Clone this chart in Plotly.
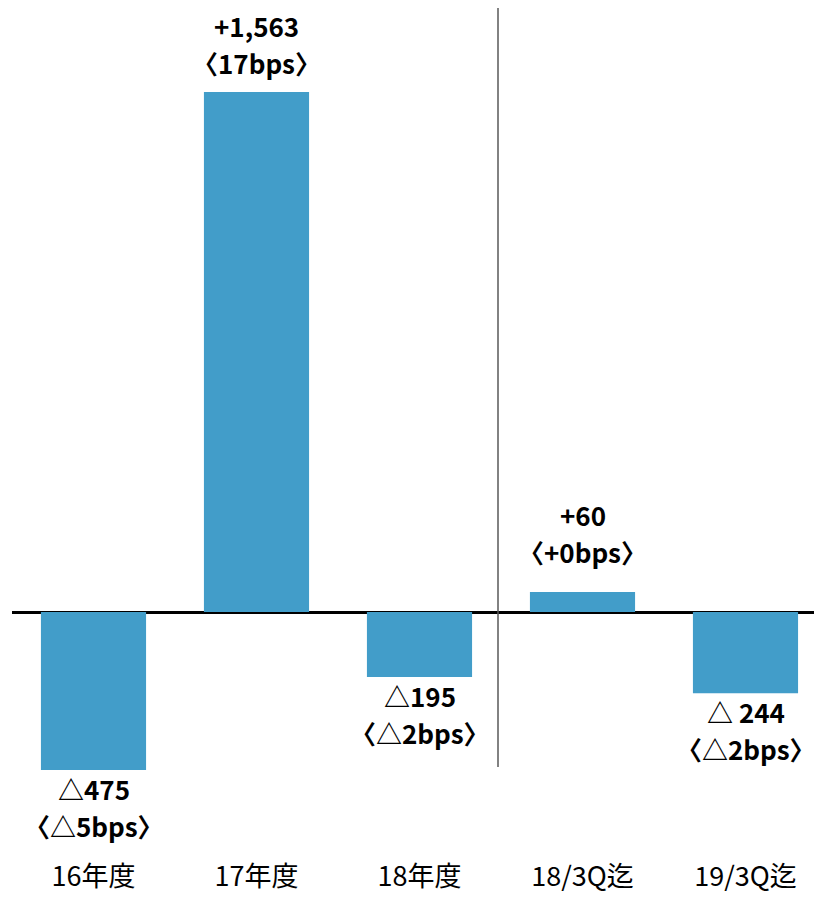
import plotly.graph_objects as go

categories = ["16年度", "17年度", "18年度", "18/3Q迄", "19/3Q迄"]
values = [-475, 1563, -195, 60, -244]
labels_main = ["△475", "+1,563", "△195", "+60", "△ 244"]
labels_bps = ["〈△5bps〉", "〈17bps〉", "〈△2bps〉", "〈+0bps〉", "〈△2bps〉"]

OFF = 8  # page body margin
W, H = 822 - 2 * OFF, 901 - 2 * OFF
ml, mr, mt, mb = 12 - OFF, 0, 0, 35
zero_px = 612 - OFF
scale = (612 - 92) / 1563.0
y_top = (zero_px - mt) / scale
y_bot = -(H - mb - zero_px) / scale

FONT = "Noto Sans CJK JP"
fs = 26

fig = go.Figure()
fig.add_trace(go.Bar(
    x=list(range(len(categories))), y=values,
    marker=dict(color="#429DC9", line=dict(width=0)),
    width=0.645, hoverinfo="skip",
))

annotations = []
for i, (v, a, b) in enumerate(zip(values, labels_main, labels_bps)):
    if v >= 0:
        gap2 = 28 if i != 1 else 17
        annotations.append(dict(x=i, y=v, text="<b>%s</b>" % b, showarrow=False,
                                yanchor="bottom", yshift=gap2 - 8,
                                font=dict(family=FONT, size=fs, color="black")))
        annotations.append(dict(x=i, y=v, text="<b>%s</b>" % a, showarrow=False,
                                yanchor="bottom", yshift=gap2 - 8 + 37,
                                font=dict(family=FONT, size=fs, color="black")))
    else:
        annotations.append(dict(x=i, y=v, text="<b>%s</b>" % a, showarrow=False,
                                yanchor="top", yshift=2,
                                font=dict(family=FONT, size=fs, color="black")))
        annotations.append(dict(x=i, y=v, text="<b>%s</b>" % b, showarrow=False,
                                yanchor="top", yshift=2 - 37,
                                font=dict(family=FONT, size=fs, color="black")))

x_div = (498 - 12) / 163.0 - 0.5
y_div_bot = -(767 - 612) / scale

fig.add_shape(type="line", xref="x", yref="y", x0=x_div, x1=x_div,
              y0=y_div_bot, y1=y_top, line=dict(color="#595959", width=1.5))

fig.update_layout(
    width=W, height=H,
    margin=dict(l=ml, r=mr, t=mt, b=mb, autoexpand=False),
    paper_bgcolor="white", plot_bgcolor="white",
    showlegend=False,
    annotations=annotations,
    xaxis=dict(range=[-0.5, -0.5 + (W - ml - mr) / 163.0],
               tickmode="array", tickvals=list(range(len(categories))),
               ticktext=categories, showgrid=False, zeroline=False,
               showline=False, ticks="", automargin=False,
               tickfont=dict(family=FONT, size=27, color="black")),
    yaxis=dict(range=[y_bot, y_top], showgrid=False, showticklabels=False,
               zeroline=True, zerolinecolor="black", zerolinewidth=3,
               showline=False, ticks="", automargin=False),
)

fig.write_html("out.html")
